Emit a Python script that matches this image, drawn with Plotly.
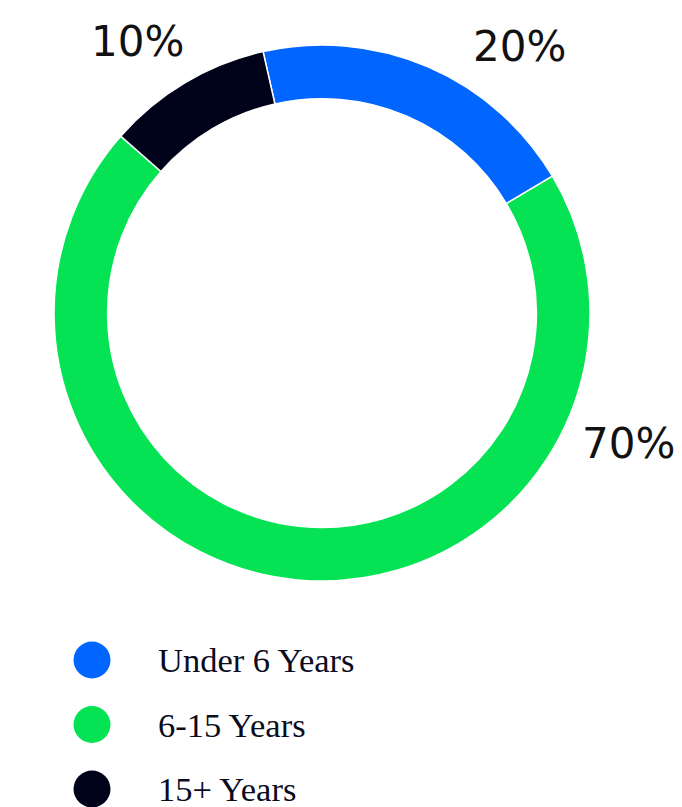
import plotly.graph_objects as go

# Tenure breakdown
categories = ["Under 6 Years", "6-15 Years", "15+ Years"]
shares = [20, 70, 10]
colors = ["#0066FF", "#05E354", "#00021A"]

# Where each percentage label sits (paper coords), in category order
label_pos = [(0.762, 0.942), (0.921, 0.451), (0.201, 0.948)]

fig = go.Figure()

fig.add_trace(go.Pie(
    labels=categories,
    values=shares,
    sort=False,
    direction="clockwise",
    rotation=-12.7,
    hole=0.80,
    marker=dict(colors=colors, line=dict(color="white", width=1.5)),
    textinfo="none",
    hoverinfo="label+percent",
    showlegend=False,
    domain=dict(x=[0.0792, 0.8651], y=[0.28, 0.9442]),
))

# Custom legend: round swatches with serif labels, drawn on a hidden axis
idx = list(range(len(categories)))
fig.add_trace(go.Scatter(
    x=[0] * len(categories),
    y=idx,
    mode="markers",
    marker=dict(size=37, color=colors, line=dict(width=0)),
    hoverinfo="skip",
    showlegend=False,
    xaxis="x", yaxis="y",
))
for i, name in enumerate(categories):
    fig.add_annotation(
        x=64, y=i, xref="x", yref="y",
        text=name, showarrow=False, xanchor="left", yanchor="middle",
        font=dict(family="Liberation Serif", size=34.5, color="#0B0B1E"),
    )

for (px, py), v in zip(label_pos, shares):
    fig.add_annotation(
        x=px, y=py, xref="paper", yref="paper",
        text=f"{v}%", showarrow=False, xanchor="center", yanchor="middle",
        font=dict(family="DejaVu Sans", size=42, color="#111111"),
    )

fig.update_layout(
    width=682, height=807,
    margin=dict(l=0, r=0, t=0, b=0),
    paper_bgcolor="white", plot_bgcolor="white",
    xaxis=dict(range=[-92, 590], domain=[0, 1], visible=False, fixedrange=True),
    yaxis=dict(range=[2.279, -10.233], domain=[0, 1], visible=False, fixedrange=True),
)

fig.write_html("out.html")
